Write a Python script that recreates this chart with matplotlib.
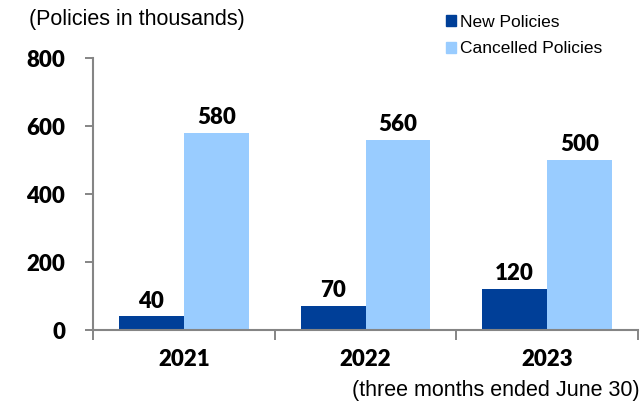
import numpy as np
import matplotlib
matplotlib.use("Agg")
import matplotlib.pyplot as plt
from matplotlib.patches import Patch

years = ["2021", "2022", "2023"]
new_policies = [40, 70, 120]
cancelled_policies = [580, 560, 500]
y_ticks = [0, 200, 400, 600, 800]

DARK = "#003F98"
LIGHT = "#99CCFF"
AXIS = "#858585"
NUM_FONT = "Lato"
TXT_FONT = "Liberation Sans"
NUM_WEIGHT = "heavy"

fig = plt.figure(figsize=(6.44, 4.01), dpi=100)
ax = fig.add_axes([0.1444, 0.177, 0.8463, 0.6783])

x = np.arange(len(years))
w = 0.357
b1 = ax.bar(x - w / 2, new_policies, w, color=DARK, zorder=2)
b2 = ax.bar(x + w / 2, cancelled_policies, w, color=LIGHT, zorder=2)

for bars, vals in ((b1, new_policies), (b2, cancelled_policies)):
    for r, v in zip(bars, vals):
        ax.text(r.get_x() + r.get_width() / 2, v + 14, str(v),
                ha="center", va="bottom", fontsize=16, fontweight=NUM_WEIGHT,
                family=NUM_FONT)

ax.set_xlim(-0.5, len(years) - 0.5)
ax.set_ylim(0, 800)
ax.set_yticks(y_ticks)
ax.set_yticklabels([str(t) for t in y_ticks], fontsize=16,
                   fontweight=NUM_WEIGHT, family=NUM_FONT)

# category labels centred, tick marks between groups
ax.set_xticks(x)
ax.set_xticklabels(years, fontsize=16, fontweight=NUM_WEIGHT, family=NUM_FONT)
ax.tick_params(axis="x", length=0, pad=14)
ax.set_xticks(np.arange(len(years) + 1) - 0.5, minor=True)
ax.tick_params(axis="x", which="minor", length=7, color=AXIS, width=1.4,
               direction="out")
ax.tick_params(axis="y", length=6, color=AXIS, width=1.4, pad=14)

for s in ("top", "right"):
    ax.spines[s].set_visible(False)
for s in ("left", "bottom"):
    ax.spines[s].set_color(AXIS)
    ax.spines[s].set_linewidth(1.5)

fig.text(0.045, 0.978, "(Policies in thousands)", fontsize=15.5,
         family=TXT_FONT, ha="left", va="top")
fig.text(0.993, 0.0, "(three months ended June 30)", fontsize=15.5,
         family=TXT_FONT, ha="right", va="bottom")

handles = [Patch(color=DARK), Patch(color=LIGHT)]
fig.legend(handles, ["New Policies", "Cancelled Policies"],
           loc="upper left", bbox_to_anchor=(0.671, 0.998), frameon=False,
           prop={"family": TXT_FONT, "size": 12.5}, handlelength=0.55,
           handleheight=0.55, handletextpad=0.25, labelspacing=0.68,
           borderpad=0.3)

fig.savefig("out.png", dpi=100, facecolor="white")
